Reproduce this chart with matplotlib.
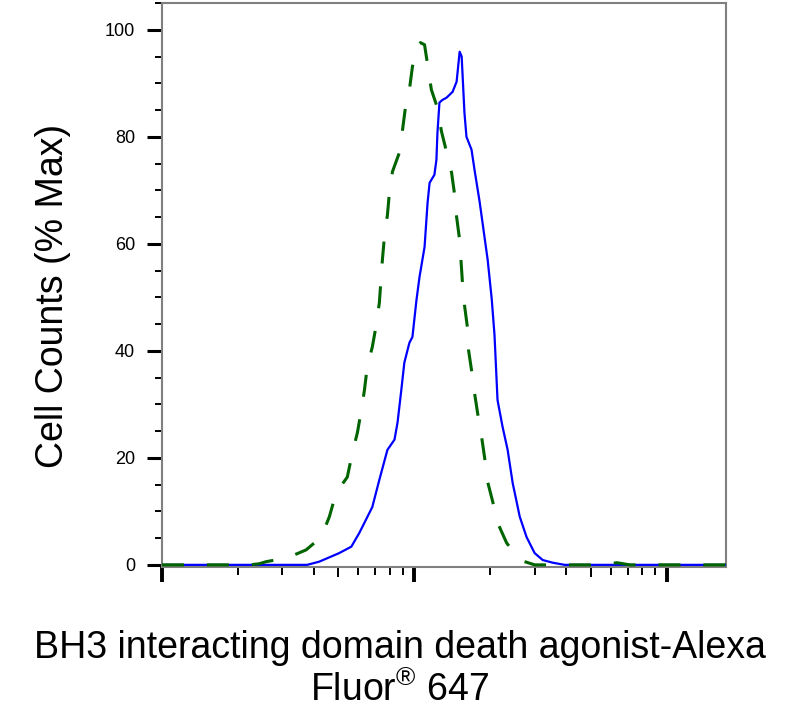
import numpy as np
import matplotlib as mpl
mpl.use('Agg')
import matplotlib.pyplot as plt
from matplotlib.ticker import LogLocator, MultipleLocator, NullFormatter

plt.rcParams['font.family'] = ['Liberation Sans', 'DejaVu Sans']
plt.rcParams['mathtext.fontset'] = 'custom'
plt.rcParams['mathtext.rm'] = 'Liberation Sans'

# stained sample (solid blue), x as log10 of intensity, y in % of max
blue_logx = [0.0, 0.524, 0.575, 0.623, 0.702, 0.750, 0.782, 0.833, 0.861, 0.893,
             0.921, 0.933, 0.948, 0.960, 0.980, 0.992, 1.008, 1.020, 1.040, 1.052,
             1.060, 1.079, 1.087, 1.091, 1.099, 1.111, 1.127, 1.151, 1.167, 1.179,
             1.187, 1.198, 1.206, 1.226, 1.238, 1.258, 1.290, 1.306, 1.317, 1.329,
             1.349, 1.369, 1.389, 1.417, 1.444, 1.476, 1.508, 1.548, 1.595, 2.234]
blue_pct = [0.0, 0.0, 0.0, 0.6, 2.2, 3.4, 6.0, 10.8, 15.9, 21.5,
            23.4, 26.6, 32.7, 37.8, 41.5, 42.6, 49.5, 53.8, 59.4, 67.7,
            71.4, 72.9, 75.7, 80.7, 86.4, 86.9, 87.3, 88.4, 90.3, 95.9,
            95.0, 84.5, 80.0, 77.6, 73.8, 67.9, 57.0, 49.7, 43.0, 30.8,
            25.8, 21.5, 15.3, 9.0, 5.2, 2.2, 0.9, 0.4, 0.0, 0.0]

# control (dashed green)
green_logx = [0.0, 0.345, 0.385, 0.413, 0.496, 0.571, 0.631, 0.663, 0.690, 0.734,
              0.754, 0.774, 0.790, 0.802, 0.813, 0.833, 0.849, 0.861, 0.873, 0.881,
              0.893, 0.901, 0.913, 0.940, 0.952, 0.964, 0.980, 0.992, 1.008, 1.024,
              1.040, 1.052, 1.067, 1.091, 1.107, 1.127, 1.147, 1.159, 1.167, 1.179,
              1.190, 1.198, 1.210, 1.214, 1.226, 1.238, 1.250, 1.266, 1.278, 1.290,
              1.310, 1.329, 1.365, 1.417, 1.476, 1.734, 1.802, 1.853, 2.234]
green_pct = [0.0, 0.0, 0.2, 0.6, 1.3, 2.8, 5.2, 9.0, 13.5, 16.4,
             20.9, 24.7, 29.0, 32.7, 37.0, 40.7, 44.9, 49.0, 57.0, 61.3,
             65.4, 69.7, 73.5, 77.0, 81.0, 85.4, 88.8, 93.1, 96.8, 97.6,
             97.2, 93.5, 88.8, 85.4, 81.0, 77.2, 73.3, 69.2, 65.0, 60.7,
             52.8, 48.6, 44.3, 40.2, 36.4, 32.1, 28.4, 23.9, 20.0, 15.5,
             11.8, 7.9, 4.1, 0.9, 0.0, 0.0, 0.4, 0.0, 0.0]

y_ticks = [0, 20, 40, 60, 80, 100]

fig = plt.figure(figsize=(8.01, 7.2), dpi=100)
ax = fig.add_axes([0.2022, 0.2125, 0.7042, 0.7833])

ax.plot(10 ** np.array(blue_logx), blue_pct, color='#0000ff', lw=1.6, zorder=3)
ax.plot(10 ** np.array(green_logx), green_pct, color='#006400', lw=2.2,
        dashes=(7.2, 7.5), zorder=4)

ax.set_xscale('log')
ax.set_xlim(1, 10 ** 2.234)
ax.set_ylim(-0.4, 105)

ax.xaxis.set_major_locator(LogLocator(base=10))
ax.xaxis.set_minor_locator(LogLocator(base=10, subs=np.arange(2, 10)))
ax.xaxis.set_major_formatter(NullFormatter())
ax.xaxis.set_minor_formatter(NullFormatter())
ax.set_yticks(y_ticks)
ax.yaxis.set_minor_locator(MultipleLocator(5))

for side in ['left', 'right', 'top', 'bottom']:
    ax.spines[side].set_color('#808080')
    ax.spines[side].set_linewidth(1.5)

ax.tick_params(axis='x', which='major', length=10.5, width=2.8, color='black')
ax.tick_params(axis='x', which='minor', length=5.8, width=1.4, color='black')
ax.tick_params(axis='y', which='major', length=10.8, width=2.2, color='black',
               labelsize=13, pad=8.5)
ax.tick_params(axis='y', which='minor', length=5, width=1.4, color='black')

# the "5" minor ticks of each decade are a little longer
minor_locs = ax.xaxis.get_minorticklocs()
for loc, t in zip(minor_locs, ax.xaxis.get_minor_ticks(len(minor_locs))):
    m = loc / 10 ** np.floor(np.log10(loc))
    if abs(m - 5) < 1e-6:
        t.tick1line.set_markersize(7.5)

ax.set_ylabel('Cell Counts (% Max)', fontsize=27)
ax.yaxis.set_label_coords(-0.161, 0.48)
ax.set_xlabel('BH3 interacting domain death agonist-Alexa\n'
              r'Fluor$^{\circledR}$ 647', fontsize=27, linespacing=1.15)
ax.xaxis.set_label_coords(0.422, -0.112)

fig.savefig('out.png', dpi=100)
